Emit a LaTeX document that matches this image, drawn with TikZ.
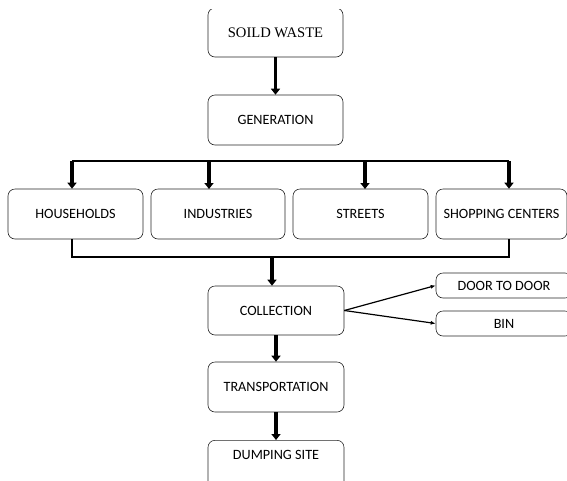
\documentclass[tikz,border=0pt]{standalone}
\usepackage{fontspec}
\setmainfont{Carlito}
\newfontfamily\serifx{Liberation Serif}
\usetikzlibrary{arrows.meta}
\tikzset{
  box/.style={draw=black!85, line width=0.6pt, rounded corners=7pt, fill=white, inner sep=0pt, font=\fontsize{14.2}{16}\selectfont},
  thickarr/.style={line width=3.6pt, -{Triangle[width=9pt,length=6pt]}},
  bus/.style={line width=2.6pt},
  thinarr/.style={line width=1.2pt, -{Latex[width=4pt,length=5pt]}}
}
\begin{document}
\begin{tikzpicture}[x=1pt,y=-1pt]
\useasboundingbox (0,0) rectangle (567,480);
\clip (0,9.5) rectangle (567,480);
% top
\node[box, minimum width=135pt, minimum height=49pt, font=\serifx\fontsize{14.6}{16}\selectfont] (sw) at (275.5,32.5) {SOILD WASTE};
\node[box, minimum width=135pt, minimum height=50pt] (gen) at (275.5,120) {GENERATION};
% row
\node[box, minimum width=135pt, minimum height=50pt] (hh) at (75.5,214) {HOUSEHOLDS};
\node[box, minimum width=134pt, minimum height=50pt] (ind) at (218,214) {INDUSTRIES};
\node[box, minimum width=135pt, minimum height=50pt] (st) at (360.5,214) {STREETS};
\node[box, minimum width=131pt, minimum height=50pt] (sc) at (501.5,214) {SHOPPING CENTERS};
% lower
\node[box, minimum width=136pt, minimum height=49pt] (col) at (276,310.5) {COLLECTION};
\node[box, minimum width=136pt, minimum height=25pt] (dd) at (504,285.5) {DOOR TO DOOR};
\node[box, minimum width=136pt, minimum height=25pt] (bin) at (504,323.5) {BIN};
\node[box, minimum width=136pt, minimum height=50pt] (tr) at (276,387) {TRANSPORTATION};
\node[box, minimum width=136pt, minimum height=60pt, anchor=north] (ds) at (276,440) {};
\node[font=\fontsize{14.2}{16}\selectfont] (dst) at (276,455) {DUMPING SITE};
% coordinates
\coordinate (bl) at (72,161);
\coordinate (br) at (509,161);
\coordinate (cl) at (72,257);
\coordinate (cr) at (509,257);
\coordinate (cm) at (272,257);
% connectors
\draw[thickarr] (sw.south) -- (gen.north);
\draw[bus] (bl) -- (br);
\draw[thickarr] (bl) -- (bl |- hh.north);
\draw[thickarr] (209,161) -- (209,189);
\draw[thickarr] (365,161) -- (365,189);
\draw[thickarr] (br) -- (br |- sc.north);
\draw[bus] (hh.south -| cl) -- (cl) -- (cr) -- (sc.south -| cr);
\draw[thickarr] (cm) -- (cm |- col.north);
\draw[thinarr] (col.east) -- (dd.west);
\draw[thinarr] (col.east) -- (bin.west);
\draw[thickarr] (col.south) -- (tr.north);
\draw[thickarr] (tr.south) -- (ds.north);
\end{tikzpicture}
\end{document}
